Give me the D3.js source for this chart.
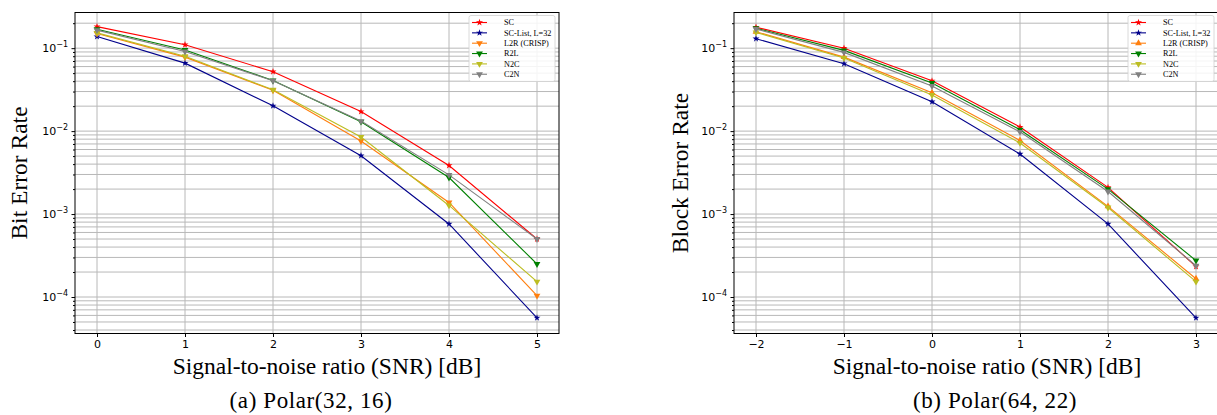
<!DOCTYPE html>
<html><head><meta charset="utf-8">
<script src="https://cdn.jsdelivr.net/npm/d3@7"></script>
<style>
html,body{margin:0;padding:0;background:#fff;}
svg{display:block;}
</style></head>
<body>
<div id="chart"></div>
<script>
// ---------- data ----------
const seriesNames = ["SC", "SC-List, L=32", "L2R (CRISP)", "R2L", "N2C", "C2N"];

// (a) Polar(32,16) — Bit Error Rate
const snrA = [0, 1, 2, 3, 4, 5];
const berSC     = [0.182, 0.110, 0.052,  0.0172, 0.00385, 0.00050];
const berSCL    = [0.138, 0.066, 0.0202, 0.00505, 0.00076, 0.000056];
const berL2R    = [0.150, 0.078, 0.031,  0.0076, 0.00138, 0.000104];
const berR2L    = [0.169, 0.095, 0.0407, 0.0130, 0.00276, 0.00025];
const berN2C    = [0.153, 0.080, 0.0315, 0.0085, 0.00127, 0.000153];
const berC2N    = [0.165, 0.091, 0.0405, 0.0132, 0.00297, 0.00050];

// (b) Polar(64,22) — Block Error Rate
const snrB = [-2, -1, 0, 1, 2, 3];
const blerSC    = [0.179, 0.100, 0.0404, 0.0112, 0.00210, 0.000233];
const blerSCL   = [0.130, 0.065, 0.0226, 0.0053, 0.00076, 0.000056];
const blerL2R   = [0.158, 0.078, 0.0290, 0.0077, 0.00124, 0.000166];
const blerR2L   = [0.174, 0.094, 0.0380, 0.0104, 0.00200, 0.000275];
const blerN2C   = [0.155, 0.076, 0.0272, 0.0072, 0.00120, 0.000153];
const blerC2N   = [0.170, 0.089, 0.0350, 0.0098, 0.00187, 0.000238];

const xTicksA = [0, 1, 2, 3, 4, 5];
const xTicksB = [-2, -1, 0, 1, 2, 3];
const yMajorExps = [-1, -2, -3, -4];

// ---------- styles ----------
const colors = ["#ff0000", "#00008b", "#ff7f0e", "#008000", "#bcbd22", "#808080"];
const markersA = ["star", "star", "down", "down", "down", "down"];
const markersB = ["star", "star", "up", "down", "down", "down"];

const W = 1217, H = 415;
const svg = d3.select("#chart").append("svg").attr("width", W).attr("height", H);

const sans = "'DejaVu Sans', sans-serif";
const serif = "'Liberation Serif', 'Times New Roman', serif";

function symbolPath(kind) {
  if (kind === "star") return d3.symbol().type(d3.symbolStar).size(15)();
  return d3.symbol().type(d3.symbolTriangle).size(20)();
}

function drawPanel(cfg) {
  const g = svg.append("g");
  const x = d3.scaleLinear().domain(cfg.xDomain).range([cfg.left, cfg.left + cfg.width]);
  const y = d3.scaleLog().domain([Math.pow(10, -4.44), Math.pow(10, -0.57)])
    .range([cfg.top + cfg.height, cfg.top]);

  const yMajor = yMajorExps.map(e => Math.pow(10, e));
  const yMinor = [];
  for (let e = -5; e <= 0; e++) for (let k = 2; k <= 9; k++) {
    const v = k * Math.pow(10, e);
    if (v >= y.domain()[0] && v <= y.domain()[1]) yMinor.push(v);
  }
  const yAll = yMajor.concat(yMinor);

  // grid
  const grid = g.append("g");
  grid.selectAll("line.hy").data(yAll).join("line")
    .attr("x1", cfg.left).attr("x2", cfg.left + cfg.width)
    .attr("y1", d => y(d)).attr("y2", d => y(d))
    .attr("stroke", "#b8b8b8").attr("stroke-width", 1);
  grid.selectAll("line.vx").data(cfg.xTicks).join("line")
    .attr("x1", d => x(d)).attr("x2", d => x(d))
    .attr("y1", cfg.top).attr("y2", cfg.top + cfg.height)
    .attr("stroke", "#b8b8b8").attr("stroke-width", 1);

  // series
  const line = d3.line().x(d => x(d[0])).y(d => y(d[1]));
  cfg.series.forEach((vals, i) => {
    const pts = cfg.xs.map((xv, j) => [xv, vals[j]]);
    g.append("path").attr("d", line(pts)).attr("fill", "none")
      .attr("stroke", colors[i]).attr("stroke-width", 1.1);
    const kind = cfg.markers[i];
    g.selectAll(null).data(pts).join("path")
      .attr("d", symbolPath(kind))
      .attr("transform", d => `translate(${x(d[0])},${y(d[1])})` + (kind === "down" ? " rotate(180)" : ""))
      .attr("fill", colors[i]);
  });

  // axes
  const xAxis = d3.axisBottom(x).tickValues(cfg.xTicks).tickSize(3.5).tickPadding(3.5)
    .tickFormat(d3.format("d"));
  const gx = g.append("g").attr("transform", `translate(0,${cfg.top + cfg.height})`).call(xAxis);
  gx.select(".domain").remove();
  gx.selectAll("text").attr("font-family", sans).attr("font-size", 11).attr("fill", "#000");

  const yAxis = d3.axisLeft(y).tickValues(yMajor).tickSize(3.5).tickPadding(3.5).tickFormat(() => "");
  const gy = g.append("g").attr("transform", `translate(${cfg.left},0)`).call(yAxis);
  gy.select(".domain").remove();
  gy.selectAll(".tick text").each(function(d) {
    const t = d3.select(this).attr("font-family", sans).attr("font-size", 11).attr("fill", "#000");
    const e = Math.round(Math.log10(d));
    t.append("tspan").text("10");
    t.append("tspan").attr("font-size", 8).attr("dy", -5).text("\u2212" + Math.abs(e));
  });
  const yMinorAxis = d3.axisLeft(y).tickValues(yMinor).tickSize(2).tickFormat(() => "");
  const gym = g.append("g").attr("transform", `translate(${cfg.left},0)`).call(yMinorAxis);
  gym.select(".domain").remove();

  // frame
  g.append("rect").attr("x", cfg.left).attr("y", cfg.top)
    .attr("width", cfg.width).attr("height", cfg.height)
    .attr("fill", "none").attr("stroke", "#000").attr("stroke-width", 1);

  // legend
  const lg = g.append("g").attr("transform", `translate(${cfg.legendX},15.5)`);
  lg.append("rect").attr("x", 0).attr("y", 0).attr("width", 86).attr("height", 66)
    .attr("rx", 2).attr("fill", "#fff").attr("fill-opacity", 0.85)
    .attr("stroke", "#d0d0d0").attr("stroke-width", 0.8);
  seriesNames.forEach((name, i) => {
    const cy = 7 + i * 10.35;
    lg.append("line").attr("x1", 3).attr("x2", 18).attr("y1", cy).attr("y2", cy)
      .attr("stroke", colors[i]).attr("stroke-width", 1.1);
    const kind = cfg.markers[i];
    lg.append("path").attr("d", symbolPath(kind))
      .attr("transform", `translate(10.5,${cy})` + (kind === "down" ? " rotate(180)" : ""))
      .attr("fill", colors[i]);
    lg.append("text").attr("x", 35).attr("y", cy).attr("dy", "0.35em")
      .attr("font-family", serif).attr("font-size", 8.2).attr("fill", "#000").text(name);
  });

  // labels
  svg.append("text").attr("transform", `translate(${cfg.yLabelX},${cfg.top + cfg.height / 2}) rotate(-90)`)
    .attr("text-anchor", "middle").attr("dy", "0.35em")
    .attr("font-family", serif).attr("font-size", 23.5).attr("fill", "#000").text(cfg.yLabel);
  svg.append("text").attr("x", cfg.xLabelX).attr("y", 374)
    .attr("text-anchor", "middle").attr("font-family", serif).attr("font-size", 23.5)
    .attr("fill", "#000").text("Signal-to-noise ratio (SNR) [dB]");
  svg.append("text").attr("x", cfg.captionX).attr("y", 408)
    .attr("text-anchor", "middle").attr("font-family", serif).attr("font-size", 23)
    .attr("letter-spacing", 0.6)
    .attr("fill", "#000").text(cfg.caption);
}

drawPanel({
  left: 75, top: 12.5, width: 484, height: 321,
  xDomain: [-0.25, 5.25], xTicks: xTicksA, xs: snrA,
  series: [berSC, berSCL, berL2R, berR2L, berN2C, berC2N],
  markers: markersA, legendX: 469,
  yLabel: "Bit Error Rate", yLabelX: 19, xLabelX: 327,
  caption: "(a) Polar(32, 16)", captionX: 311
});
drawPanel({
  left: 734, top: 12.5, width: 484, height: 321,
  xDomain: [-2.25, 3.25], xTicks: xTicksB, xs: snrB,
  series: [blerSC, blerSCL, blerL2R, blerR2L, blerN2C, blerC2N],
  markers: markersB, legendX: 1128,
  yLabel: "Block Error Rate", yLabelX: 680, xLabelX: 987,
  caption: "(b) Polar(64, 22)", captionX: 995
});
</script>
</body></html>
